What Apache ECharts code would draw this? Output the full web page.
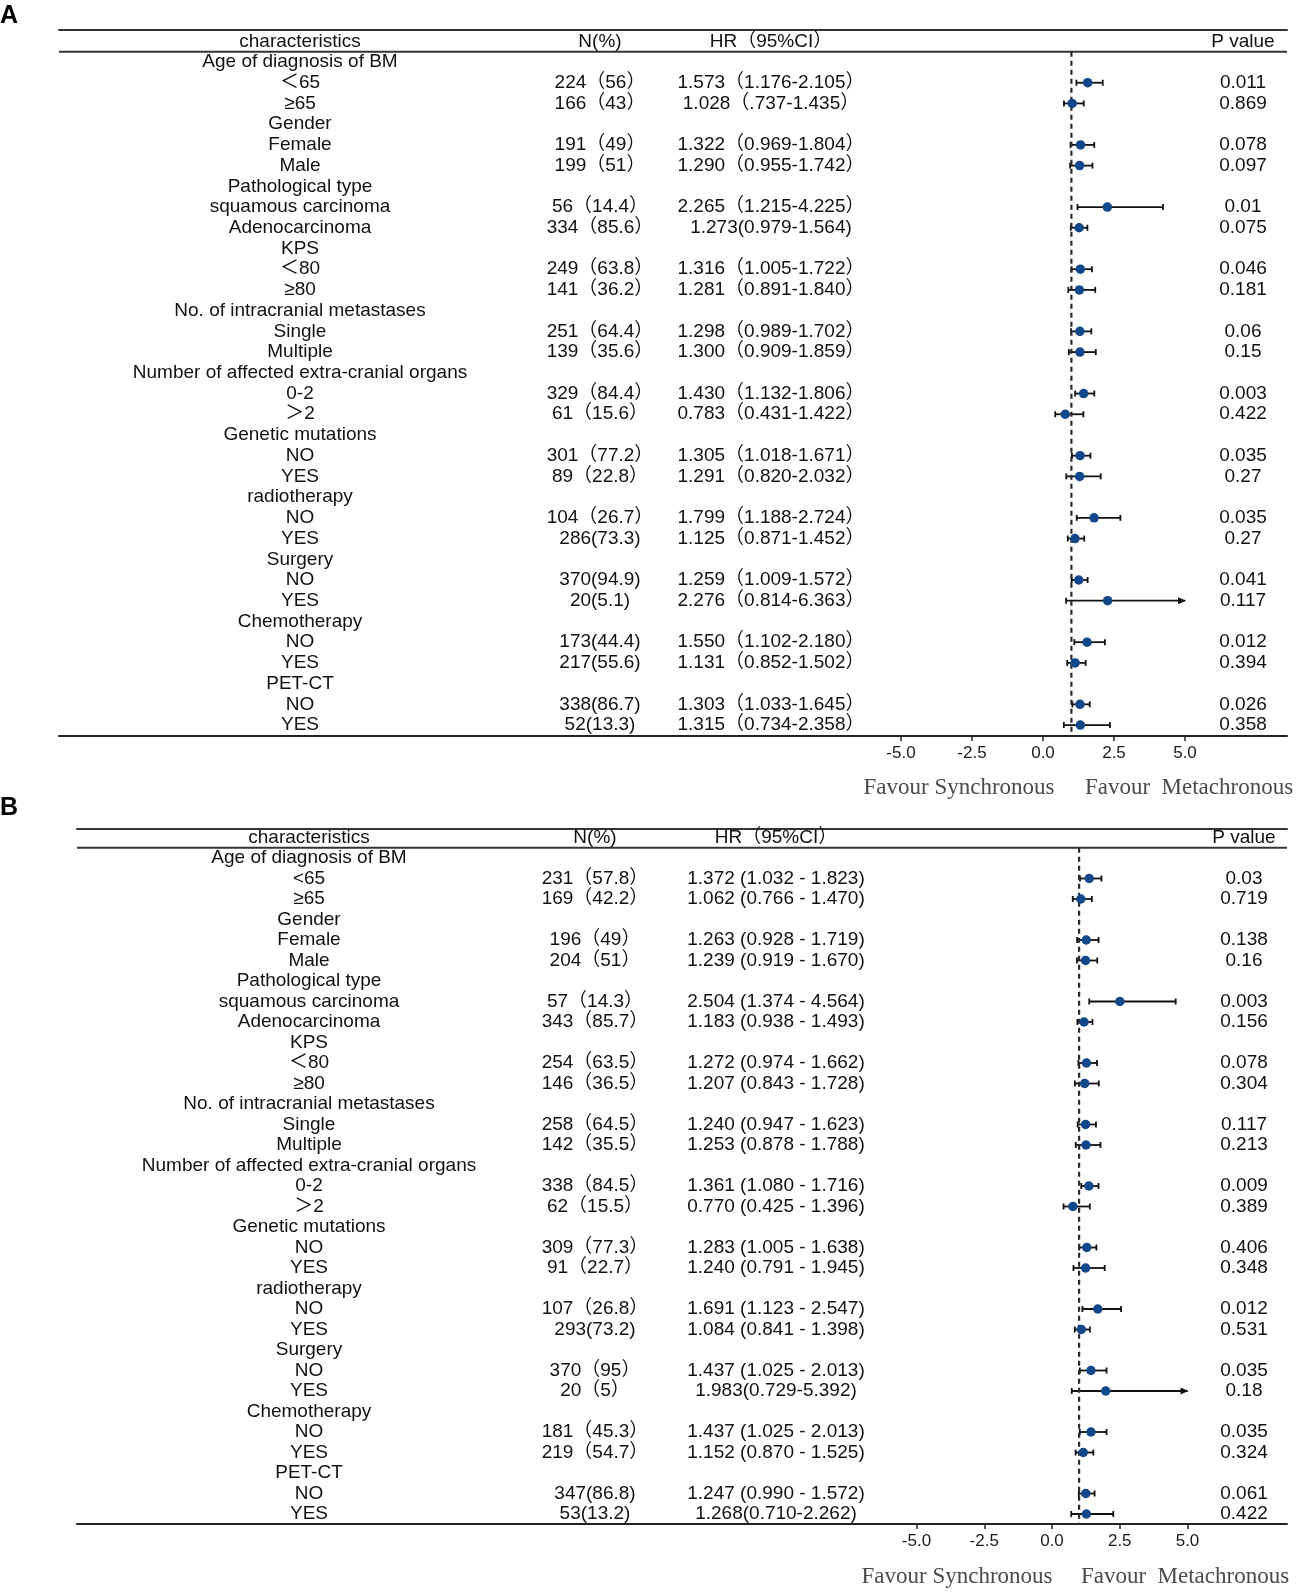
<!DOCTYPE html>
<html>
<head>
<meta charset="utf-8">
<script src="https://cdn.jsdelivr.net/npm/echarts@6/dist/echarts.min.js"></script>
<style>
  html, body { margin: 0; padding: 0; background: #fff; }
  #chart { width: 1298px; height: 1596px; }
</style>
</head>
<body>
<div id="chart"></div>
<script>
// 分组与亚组（两个面板共用）
const groupNames = ['Age of diagnosis of BM', 'Gender', 'Pathological type', 'KPS',
  'No. of intracranial metastases', 'Number of affected extra-cranial organs',
  'Genetic mutations', 'radiotherapy', 'Surgery', 'Chemotherapy', 'PET-CT'];
const subLabelsA = ['＜65', '≥65', 'Female', 'Male', 'squamous carcinoma', 'Adenocarcinoma',
  '＜80', '≥80', 'Single', 'Multiple', '0-2', '＞2', 'NO', 'YES', 'NO', 'YES',
  'NO', 'YES', 'NO', 'YES', 'NO', 'YES'];
const subLabelsB = ['<65', '≥65', 'Female', 'Male', 'squamous carcinoma', 'Adenocarcinoma',
  '＜80', '≥80', 'Single', 'Multiple', '0-2', '＞2', 'NO', 'YES', 'NO', 'YES',
  'NO', 'YES', 'NO', 'YES', 'NO', 'YES'];
const headers = ['characteristics', 'N(%)', 'HR（95%CI）', 'P value'];
const tickValues = [-5, -2.5, 0, 2.5, 5];
const refValue = 1;
const ciCap = 5;

// 面板 A
const nA = ['224（56）', '166（43）', '191（49）', '199（51）', '56（14.4）', '334（85.6）',
  '249（63.8）', '141（36.2）', '251（64.4）', '139（35.6）', '329（84.4）', '61（15.6）',
  '301（77.2）', '89（22.8）', '104（26.7）', '286(73.3)', '370(94.9)', '20(5.1)',
  '173(44.4)', '217(55.6)', '338(86.7)', '52(13.3)'];
const hrTextA = ['1.573（1.176-2.105）', '1.028（.737-1.435）', '1.322（0.969-1.804）',
  '1.290（0.955-1.742）', '2.265（1.215-4.225）', '1.273(0.979-1.564)', '1.316（1.005-1.722）',
  '1.281（0.891-1.840）', '1.298（0.989-1.702）', '1.300（0.909-1.859）', '1.430（1.132-1.806）',
  '0.783（0.431-1.422）', '1.305（1.018-1.671）', '1.291（0.820-2.032）', '1.799（1.188-2.724）',
  '1.125（0.871-1.452）', '1.259（1.009-1.572）', '2.276（0.814-6.363）', '1.550（1.102-2.180）',
  '1.131（0.852-1.502）', '1.303（1.033-1.645）', '1.315（0.734-2.358）'];
const hrA = [1.573, 1.028, 1.322, 1.290, 2.265, 1.273, 1.316, 1.281, 1.298, 1.300, 1.430,
  0.783, 1.305, 1.291, 1.799, 1.125, 1.259, 2.276, 1.550, 1.131, 1.303, 1.315];
const loA = [1.176, 0.737, 0.969, 0.955, 1.215, 0.979, 1.005, 0.891, 0.989, 0.909, 1.132,
  0.431, 1.018, 0.820, 1.188, 0.871, 1.009, 0.814, 1.102, 0.852, 1.033, 0.734];
const hiA = [2.105, 1.435, 1.804, 1.742, 4.225, 1.564, 1.722, 1.840, 1.702, 1.859, 1.806,
  1.422, 1.671, 2.032, 2.724, 1.452, 1.572, 6.363, 2.180, 1.502, 1.645, 2.358];
const pA = ['0.011', '0.869', '0.078', '0.097', '0.01', '0.075', '0.046', '0.181', '0.06', '0.15',
  '0.003', '0.422', '0.035', '0.27', '0.035', '0.27', '0.041', '0.117', '0.012', '0.394',
  '0.026', '0.358'];

// 面板 B
const nB = ['231（57.8）', '169（42.2）', '196（49）', '204（51）', '57（14.3）', '343（85.7）',
  '254（63.5）', '146（36.5）', '258（64.5）', '142（35.5）', '338（84.5）', '62（15.5）',
  '309（77.3）', '91（22.7）', '107（26.8）', '293(73.2)', '370（95）', '20（5）',
  '181（45.3）', '219（54.7）', '347(86.8)', '53(13.2)'];
const hrTextB = ['1.372 (1.032 - 1.823)', '1.062 (0.766 - 1.470)', '1.263 (0.928 - 1.719)',
  '1.239 (0.919 - 1.670)', '2.504 (1.374 - 4.564)', '1.183 (0.938 - 1.493)', '1.272 (0.974 - 1.662)',
  '1.207 (0.843 - 1.728)', '1.240 (0.947 - 1.623)', '1.253 (0.878 - 1.788)', '1.361 (1.080 - 1.716)',
  '0.770 (0.425 - 1.396)', '1.283 (1.005 - 1.638)', '1.240 (0.791 - 1.945)', '1.691 (1.123 - 2.547)',
  '1.084 (0.841 - 1.398)', '1.437 (1.025 - 2.013)', '1.983(0.729-5.392)', '1.437 (1.025 - 2.013)',
  '1.152 (0.870 - 1.525)', '1.247 (0.990 - 1.572)', '1.268(0.710-2.262)'];
const hrB = [1.372, 1.062, 1.263, 1.239, 2.504, 1.183, 1.272, 1.207, 1.240, 1.253, 1.361,
  0.770, 1.283, 1.240, 1.691, 1.084, 1.437, 1.983, 1.437, 1.152, 1.247, 1.268];
const loB = [1.032, 0.766, 0.928, 0.919, 1.374, 0.938, 0.974, 0.843, 0.947, 0.878, 1.080,
  0.425, 1.005, 0.791, 1.123, 0.841, 1.025, 0.729, 1.025, 0.870, 0.990, 0.710];
const hiB = [1.823, 1.470, 1.719, 1.670, 4.564, 1.493, 1.662, 1.728, 1.623, 1.788, 1.716,
  1.396, 1.638, 1.945, 2.547, 1.398, 2.013, 5.392, 2.013, 1.525, 1.572, 2.262];
const pB = ['0.03', '0.719', '0.138', '0.16', '0.003', '0.156', '0.078', '0.304', '0.117', '0.213',
  '0.009', '0.389', '0.406', '0.348', '0.012', '0.531', '0.035', '0.18', '0.035', '0.324',
  '0.061', '0.422'];

// 版面（像素）
const panels = [
  { tag: 'A', sub: subLabelsA, n: nA, hrText: hrTextA, hr: hrA, lo: loA, hi: hiA, p: pA,
    top: 30, bottom: 736, left: 59, right: 1287, y0: 62, step: 20.72, zero: 1043, unit: 28.4,
    cols: [300, 600, 771, 1243], tagY: 4, favourY: 788, favourX: [959, 1189] },
  { tag: 'B', sub: subLabelsB, n: nB, hrText: hrTextB, hr: hrB, lo: loB, hi: hiB, p: pB,
    top: 829, bottom: 1524, left: 77, right: 1287, y0: 858, step: 20.5, zero: 1052, unit: 27.1,
    cols: [309, 595, 776, 1244], tagY: 796, favourY: 1577, favourX: [957, 1185] }
];

const FONT = 'Arial, "Liberation Sans", "Noto Sans CJK SC", sans-serif';
const INK = '#111';
const DOT = '#12478a';

const grid = [], xAxis = [], yAxis = [], series = [], graphic = [];

panels.forEach((pn, i) => {
  const yMin = (pn.top - pn.y0) / pn.step;
  const yMax = (pn.bottom - pn.y0) / pn.step;
  grid.push({ left: pn.left, top: pn.top, width: pn.right - pn.left, height: pn.bottom - pn.top });

  // 森林图数值轴（底部，兼作表格底线）
  xAxis.push({
    type: 'value', gridIndex: i, position: 'bottom',
    min: (pn.left - pn.zero) / pn.unit, max: (pn.right - pn.zero) / pn.unit,
    splitLine: { show: false },
    axisLine: { show: true, onZero: false, lineStyle: { color: '#222', width: 2 } },
    axisTick: { show: true, customValues: tickValues, length: 5, lineStyle: { color: '#222', width: 1.5 } },
    axisLabel: { show: true, customValues: tickValues, formatter: v => v.toFixed(1),
      fontFamily: FONT, fontSize: 17, color: '#1a1a1a', margin: 9 }
  });
  // 文字列定位轴（顶部，兼作表格顶线）
  xAxis.push({
    type: 'value', gridIndex: i, position: 'top', min: pn.left, max: pn.right,
    splitLine: { show: false },
    axisLine: { show: true, onZero: false, lineStyle: { color: '#333', width: 2 } },
    axisTick: { show: false }, axisLabel: { show: false }
  });
  yAxis.push({ type: 'value', gridIndex: i, inverse: true, min: yMin, max: yMax, show: false });

  // 行号
  const rowOf = k => Math.floor(k / 2) * 3 + 1 + (k % 2);

  // 文字列
  const charCells = [[pn.cols[0], -1, headers[0]]];
  groupNames.forEach((g, gi) => charCells.push([pn.cols[0], gi * 3, g]));
  pn.sub.forEach((s, k) => charCells.push([pn.cols[0], rowOf(k), s]));
  const nCells = [[pn.cols[1], -1, headers[1]]].concat(pn.n.map((t, k) => [pn.cols[1], rowOf(k), t]));
  const hrCells = [[pn.cols[2], -1, headers[2]]].concat(pn.hrText.map((t, k) => [pn.cols[2], rowOf(k), t]));
  const pCells = [[pn.cols[3], -1, headers[3]]].concat(pn.p.map((t, k) => [pn.cols[3], rowOf(k), t]));

  [charCells, nCells, hrCells, pCells].forEach(cells => {
    series.push({
      type: 'scatter', xAxisIndex: 2 * i + 1, yAxisIndex: i, data: cells,
      symbolSize: 0, silent: true, itemStyle: { opacity: 1 },
      label: { show: true, position: 'inside', formatter: pr => pr.data[2],
        fontFamily: FONT, fontSize: 19, color: INK, align: 'center', verticalAlign: 'middle' }
    });
  });

  // 表头下横线
  series.push({
    type: 'line', xAxisIndex: 2 * i + 1, yAxisIndex: i, symbol: 'none', silent: true,
    data: [[pn.left, -0.5], [pn.right, -0.5]],
    lineStyle: { color: '#333', width: 2 }
  });

  // 参考虚线 HR=1
  series.push({
    type: 'line', xAxisIndex: 2 * i, yAxisIndex: i, symbol: 'none', silent: true,
    data: [[refValue, -0.5], [refValue, yMax]],
    lineStyle: { color: '#2a2a2a', width: 2.2, type: [5, 4] }
  });

  // 置信区间
  series.push({
    type: 'custom', xAxisIndex: 2 * i, yAxisIndex: i, silent: true,
    data: pn.hr.map((h, k) => [h, pn.lo[k], pn.hi[k], rowOf(k)]),
    encode: { x: [0, 1, 2], y: 3 },
    renderItem: (params, api) => {
      const row = api.value(3);
      const hiV = api.value(2);
      const a = api.coord([api.value(1), row]);
      const b = api.coord([Math.min(hiV, ciCap), row]);
      const st = { stroke: '#111', lineWidth: 1.8 };
      const kids = [
        { type: 'line', shape: { x1: a[0], y1: a[1], x2: b[0], y2: b[1] }, style: st },
        { type: 'line', shape: { x1: a[0], y1: a[1] - 3, x2: a[0], y2: a[1] + 3 }, style: st }
      ];
      if (hiV > ciCap) {
        kids.push({ type: 'polygon', shape: { points: [[b[0] + 1, b[1]], [b[0] - 7, b[1] - 3.5], [b[0] - 7, b[1] + 3.5]] },
          style: { fill: '#111' } });
      } else {
        kids.push({ type: 'line', shape: { x1: b[0], y1: b[1] - 3, x2: b[0], y2: b[1] + 3 }, style: st });
      }
      return { type: 'group', children: kids };
    }
  });

  // 点估计
  series.push({
    type: 'scatter', xAxisIndex: 2 * i, yAxisIndex: i, silent: true,
    data: pn.hr.map((h, k) => [h, rowOf(k)]),
    symbol: 'circle', symbolSize: 9.5, itemStyle: { color: DOT, opacity: 1 }, z: 5
  });

  // 面板标签与方向说明
  graphic.push({ type: 'text', left: 0, top: pn.tagY,
    style: { text: pn.tag, font: 'bold 25px Arial, "Liberation Sans", sans-serif', fill: '#000' } });
  ['Favour Synchronous', 'Favour  Metachronous'].forEach((t, j) => {
    graphic.push({ type: 'text', x: pn.favourX[j], y: pn.favourY,
      style: { text: t, font: '23px "Times New Roman", "Liberation Serif", serif', fill: '#4a4a4a',
        align: 'center', verticalAlign: 'middle' } });
  });
});

const chart = echarts.init(document.getElementById('chart'));
chart.setOption({ animation: false, backgroundColor: '#fff', grid, xAxis, yAxis, series, graphic });
</script>
</body>
</html>
